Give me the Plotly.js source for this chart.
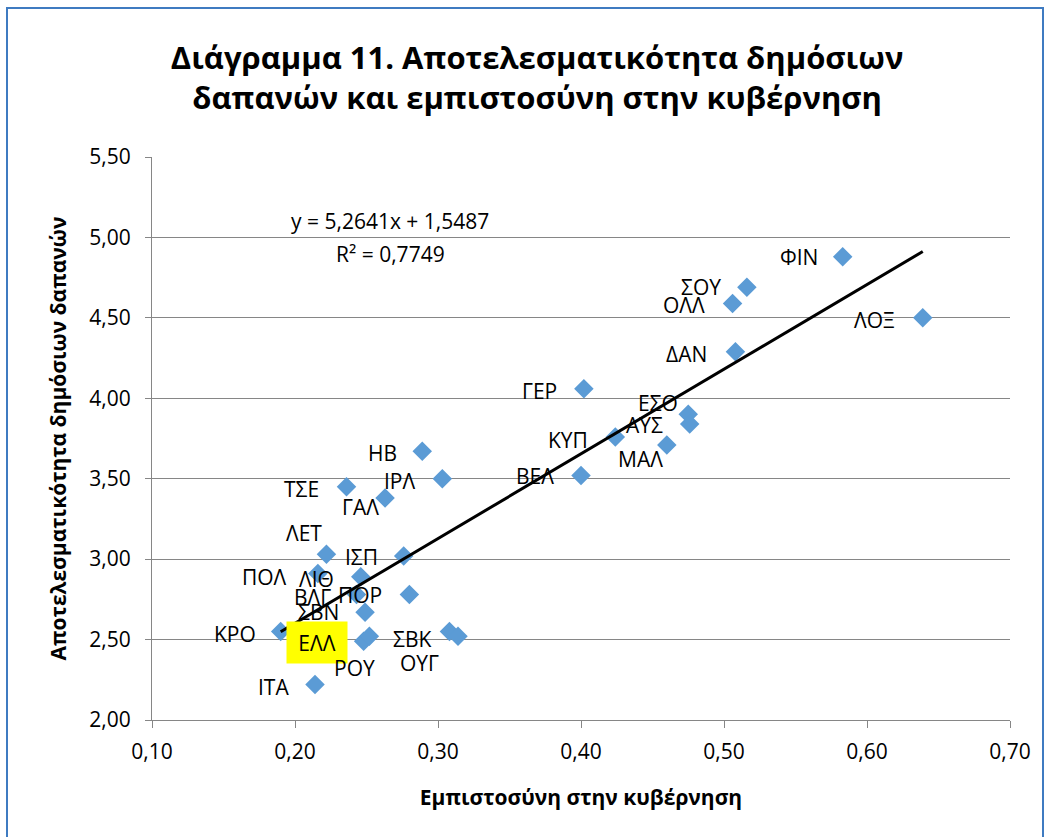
<!DOCTYPE html>
<html>
<head>
<meta charset="utf-8">
<script src="https://cdn.plot.ly/plotly-3.0.1.min.js"></script>
<style>
html,body{margin:0;padding:0;background:#fff;}
#wrap{position:relative;width:1047px;height:837px;overflow:hidden;}
#chart{width:1047px;height:837px;}
#frame{position:absolute;left:6px;top:7px;width:1034px;height:860px;border:2px solid #3F7BC1;pointer-events:none;}
</style>
</head>
<body>
<div id="wrap"><div id="chart"></div><div id="frame"></div></div>
<script>
// Data
const countries = ['ΦΙΝ','ΣΟΥ','ΟΛΛ','ΛΟΞ','ΔΑΝ','ΓΕΡ','ΕΣΟ','ΑΥΣ','ΚΥΠ','ΜΑΛ','ΒΕΛ','ΗΒ','ΙΡΛ','ΤΣΕ','ΓΑΛ','ΛΕΤ','ΙΣΠ','ΠΟΛ','ΛΙΘ','ΒΛΓ','ΠΟΡ','ΣΒΝ','ΚΡΟ','ΕΛΛ','ΡΟΥ','ΣΒΚ','ΟΥΓ','ΙΤΑ'];
const trustInGov = [0.583,0.516,0.506,0.639,0.508,0.402,0.475,0.476,0.424,0.460,0.400,0.289,0.303,0.236,0.263,0.222,0.276,0.216,0.246,0.243,0.280,0.249,0.190,0.248,0.252,0.308,0.314,0.214];
const spendingEff = [4.88,4.69,4.59,4.50,4.29,4.06,3.90,3.84,3.76,3.71,3.52,3.67,3.50,3.45,3.38,3.03,3.02,2.91,2.89,2.78,2.78,2.67,2.55,2.49,2.52,2.55,2.52,2.22];
const trendSlope = 5.2641;
const trendIntercept = 1.5487;
const rSquared = 0.7749;
const highlighted = 'ΕΛΛ';

// Label offsets (pixels) - styling only
const labelShiftX = [-44,-46,-49,-48,-49,-44,-30,-45,-47,-26,-46,-40,-43,-45,-25,-22,-42,-53,-44,-44,-49,-47,-46,-47,-15,-37,-39,-42];
const labelShiftY = [0,0,-2,-2,-2,-2,11,-1,-3,-14,0,-2,-2,-2,-9,21,-1,-3,-2,-2,0,0,-2,-1,-32,-7,-27,-2];

const fmt = (v, d) => v.toFixed(d).replace('.', ',');

const xMin = Math.min(...trustInGov), xMax = Math.max(...trustInGov);
const trendX = [xMin, xMax];
const trendY = trendX.map(x => trendSlope * x + trendIntercept);

const scatter = {
  x: trustInGov, y: spendingEff, mode: 'markers', type: 'scatter',
  marker: {symbol: 'diamond', size: 15, color: '#5B9BD5'},
  hoverinfo: 'skip', showlegend: false
};
const trend = {
  x: trendX, y: trendY, mode: 'lines', type: 'scatter',
  line: {color: '#000', width: 3}, hoverinfo: 'skip', showlegend: false
};

const labelFont = {family: 'Open Sans, sans-serif', size: 21, color: '#000'};
const annotations = countries.map((c, i) => {
  const a = {
    x: trustInGov[i], y: spendingEff[i], xref: 'x', yref: 'y',
    text: c, showarrow: false, font: labelFont,
    xanchor: 'center', yanchor: 'middle',
    xshift: labelShiftX[i], yshift: labelShiftY[i]
  };
  if (c === highlighted) {
    a.bgcolor = '#FFFF00'; a.width = 52; a.height = 33; a.borderpad = 4;
  }
  return a;
});
annotations.push({
  xref: 'paper', yref: 'paper', x: (390-152)/858, y: (720-221)/563,
  text: 'y = ' + fmt(trendSlope, 4) + 'x + ' + fmt(trendIntercept, 4),
  showarrow: false, font: labelFont, xanchor: 'center', yanchor: 'middle'
});
annotations.push({
  xref: 'paper', yref: 'paper', x: (390-152)/858, y: (720-254)/563,
  text: 'R² = ' + fmt(rSquared, 4),
  showarrow: false, font: labelFont, xanchor: 'center', yanchor: 'middle'
});

const layout = {
  width: 1047, height: 837,
  margin: {l: 152, r: 37, t: 157, b: 117},
  paper_bgcolor: '#fff', plot_bgcolor: '#fff',
  separators: ',.',
  font: {family: 'Open Sans, sans-serif', color: '#000'},
  title: {
    text: 'Διάγραμμα 11. Αποτελεσματικότητα δημόσιων<br>δαπανών και εμπιστοσύνη στην κυβέρνηση',
    font: {family: 'Open Sans, sans-serif', size: 31, color: '#000', weight: 'bold'},
    x: 0.513, xanchor: 'center', y: 0.918, yanchor: 'top'
  },
  xaxis: {
    range: [0.1, 0.7], tick0: 0.1, dtick: 0.1, tickformat: '.2f',
    showgrid: false, zeroline: false, showline: true, linecolor: '#868686', linewidth: 1,
    ticks: 'outside', ticklen: 7, tickcolor: '#868686', ticklabelstandoff: 6,
    tickfont: {size: 21, family: 'Open Sans, sans-serif'},
    title: {text: 'Εμπιστοσύνη στην κυβέρνηση', font: {size: 21, weight: 'bold'}, standoff: 26}
  },
  yaxis: {
    range: [2, 5.5], tick0: 2, dtick: 0.5, tickformat: '.2f',
    showgrid: true, gridcolor: '#868686', gridwidth: 1, zeroline: false,
    showline: true, linecolor: '#868686', linewidth: 1,
    ticks: 'outside', ticklen: 6, tickcolor: '#868686', ticklabelstandoff: 10,
    tickfont: {size: 21, family: 'Open Sans, sans-serif'},
    title: {text: 'Αποτελεσματικότητα δημόσιων δαπανών', font: {size: 21, weight: 'bold'}, standoff: 16}
  },
  annotations: annotations
};

Plotly.newPlot('chart', [scatter, trend], layout, {displayModeBar: false, staticPlot: true});
</script>
</body>
</html>
